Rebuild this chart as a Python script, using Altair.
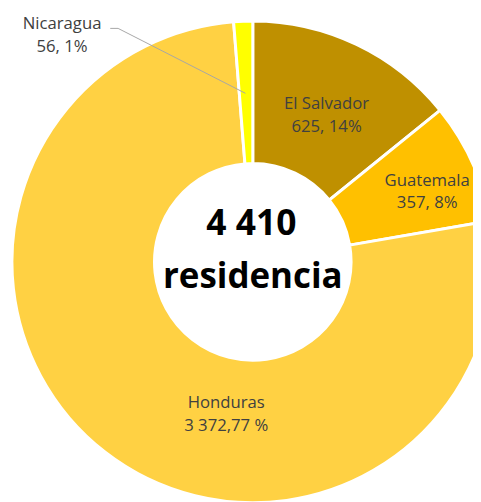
import altair as alt
import pandas as pd

countries = ["El Salvador", "Guatemala", "Honduras", "Nicaragua"]
values = [625, 357, 3372, 56]
value_labels = ["625, 14%", "357, 8%", "3 372,77 %", "56, 1%"]
colors = ["#BF9000", "#FFC000", "#FFD143", "#FFFF00"]
total_lines = ["4 410", "residencia"]

df = pd.DataFrame({
    "country": countries,
    "value": values,
    "vlabel": value_labels,
    "idx": list(range(len(countries))),
})
df["label"] = df["country"] + "\n" + df["vlabel"]

CX, CY = 249, 254
FONT = "Open Sans"
LH = 23
FS = 17

base = (
    alt.Chart(df)
    .transform_window(cum="sum(value)", sort=[{"field": "idx"}], frame=[None, 0])
    .transform_joinaggregate(total="sum(value)")
    .transform_calculate(
        a0="2*PI*(datum.cum - datum.value)/datum.total",
        a1="2*PI*datum.cum/datum.total",
    )
    .transform_calculate(mid="(datum.a0 + datum.a1)/2")
)

arcs = base.mark_arc(outerRadius=245, innerRadius=100, stroke="white", strokeWidth=3).encode(
    theta=alt.Theta("a0:Q", scale=None),
    theta2=alt.Theta2("a1:Q"),
    color=alt.Color("country:N", scale=alt.Scale(domain=countries, range=colors), legend=None),
    x=alt.value(CX),
    y=alt.value(CY),
)


def slice_label(name, r, dx=0, dy=0):
    return base.transform_filter(alt.datum.country == name).mark_text(
        font=FONT, fontSize=FS, lineBreak="\n", lineHeight=LH, color="#404040",
        align="center", baseline="middle", dx=dx, dy=dy - LH / 2,
    ).encode(
        text="label:N",
        theta=alt.Theta("mid:Q", scale=None),
        radius=alt.value(r),
        x=alt.value(CX),
        y=alt.value(CY),
    )


lab_es = slice_label("El Salvador", 165, dx=4)
lab_gt = slice_label("Guatemala", 186, dx=8, dy=6)
lab_hn = slice_label("Honduras", 155, dx=68, dy=33)

lab_ni = base.transform_filter(alt.datum.country == "Nicaragua").mark_text(
    font=FONT, fontSize=FS, lineBreak="\n", lineHeight=LH, color="#404040",
    align="center", baseline="middle", dy=-LH / 2,
).encode(text="label:N", x=alt.value(55), y=alt.value(24))

one = alt.Chart(pd.DataFrame({"a": [0]}))
lead1 = one.mark_rule(color="#A6A6A6", strokeWidth=1).encode(
    x=alt.value(104), x2=alt.value(112), y=alt.value(16.5), y2=alt.value(16.5))
lead2 = one.mark_rule(color="#A6A6A6", strokeWidth=1).encode(
    x=alt.value(112), x2=alt.value(241.5), y=alt.value(16.5), y2=alt.value(82.5))

center1 = one.mark_text(font=FONT, fontSize=36, fontWeight="bold", color="#000000",
                        align="center", baseline="alphabetic").encode(
    text=alt.value(total_lines[0]), x=alt.value(CX - 1.5), y=alt.value(227))
center2 = one.mark_text(font=FONT, fontSize=35.5, fontWeight="bold", color="#000000",
                        align="center", baseline="alphabetic").encode(
    text=alt.value(total_lines[1]), x=alt.value(CX), y=alt.value(281))

chart = alt.layer(arcs, lab_es, lab_gt, lab_hn, lead1, lead2, lab_ni, center1, center2).properties(
    width=473, height=494, padding=0, autosize="none"
).configure_view(stroke=None)

chart.save("out.html", embed_options={"renderer": "svg", "actions": False})
